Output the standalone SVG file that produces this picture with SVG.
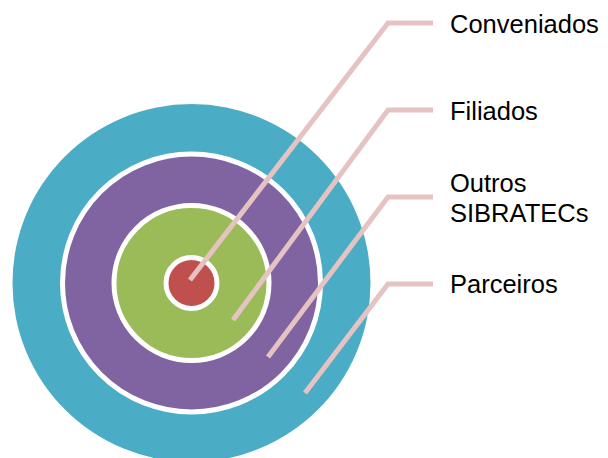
<svg xmlns="http://www.w3.org/2000/svg" width="608" height="458" viewBox="0 0 608 458">
<style>
.ring{stroke:#FFFFFF;stroke-width:5}
.lbl{font-family:"Liberation Sans",Arial,sans-serif;font-size:25.5px;fill:#000000}
.conn{fill:none;stroke:#E5C3C3;stroke-width:5;stroke-linecap:butt;stroke-linejoin:miter}
</style>
<rect width="608" height="458" fill="#FFFFFF"/>
<g id="parceiros">
<circle cx="191.5" cy="283" r="179" fill="#4BACC6"/>
</g>
<g id="filiados-ring">
<circle class="ring" cx="191.5" cy="283" r="129" fill="#8064A2"/>
</g>
<g id="outros-ring">
<circle class="ring" cx="191.5" cy="283" r="77.5" fill="#9BBB59"/>
</g>
<g id="conveniados-ring">
<circle class="ring" cx="191.5" cy="283" r="25.5" fill="#C0504D"/>
</g>
<g id="connectors">
<polyline class="conn" points="190,280 388,23 433,23"/>
<polyline class="conn" points="233,320 388,110 433,110"/>
<polyline class="conn" points="268,357 388,197 433,197"/>
<polyline class="conn" points="305,393 388,284 433,284"/>
</g>
<g id="label-conveniados"><text class="lbl" x="450" y="32.5">Conveniados</text></g>
<g id="label-filiados"><text class="lbl" x="450" y="120">Filiados</text></g>
<g id="label-outros"><text class="lbl" x="450" y="191.5">Outros</text><text class="lbl" x="450" y="222">SIBRATECs</text></g>
<g id="label-parceiros"><text class="lbl" x="450" y="293">Parceiros</text></g>
</svg>
